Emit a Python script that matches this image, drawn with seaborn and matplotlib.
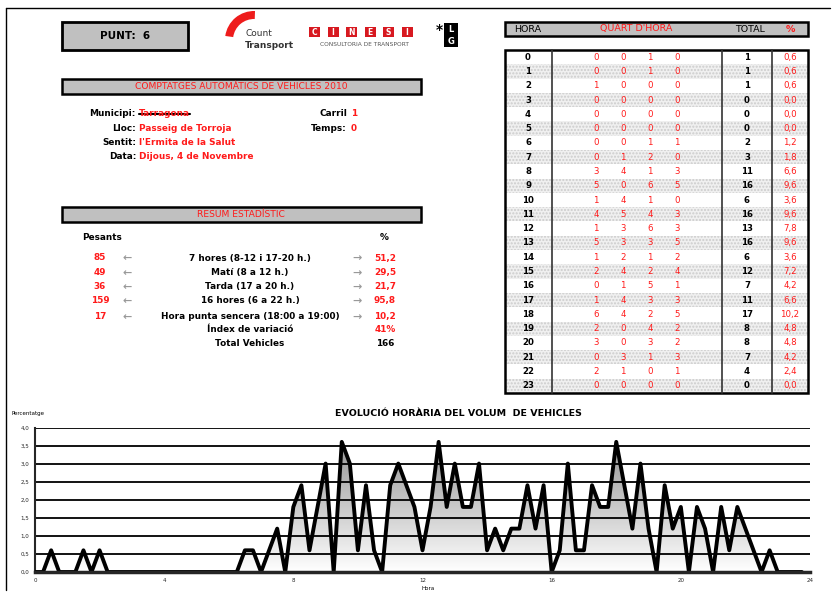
import numpy as np
import pandas as pd
import seaborn as sns
import matplotlib
matplotlib.use("Agg")
from matplotlib import pyplot as plt
from matplotlib.patches import Rectangle, Wedge
from matplotlib.colors import LinearSegmentedColormap

sns.set_style("white")
plt.rcParams["font.family"] = ["DejaVu Sans"]

# vehicles per quarter of an hour (columns of the table)
hours = list(range(24))
q1 = [0, 0, 1, 0, 0, 0, 0, 0, 3, 5, 1, 4, 1, 5, 1, 2, 0, 1, 6, 2, 3, 0, 2, 0]
q2 = [0, 0, 0, 0, 0, 0, 0, 1, 4, 0, 4, 5, 3, 3, 2, 4, 1, 4, 4, 0, 0, 3, 1, 0]
q3 = [1, 1, 0, 0, 0, 0, 1, 2, 1, 6, 1, 4, 6, 3, 1, 2, 5, 3, 2, 4, 3, 1, 0, 0]
q4 = [0, 0, 0, 0, 0, 0, 1, 0, 3, 5, 0, 3, 3, 5, 2, 4, 1, 3, 5, 2, 2, 3, 1, 0]

info_labels = ["Municipi:", "Lloc:", "Sentit:", "Data:"]
info_values = ["Tarragona", "Passeig de Torroja", "l'Ermita de la Salut", "Dijous, 4 de Novembre"]

stat_labels = ["7 hores (8-12 i 17-20 h.)", "Matí (8 a 12 h.)", "Tarda (17 a 20 h.)",
               "16 hores (6 a 22 h.)", "Hora punta sencera (18:00 a 19:00)"]
stat_counts = ["85", "49", "36", "159", "17"]
stat_pcts = ["51,2", "29,5", "21,7", "95,8", "10,2"]
index_variacio = "41%"

totals = [a + b + c + d for a, b, c, d in zip(q1, q2, q3, q4)]
total_vehicles = sum(totals)

RED = "#ff1a1a"
GREY = "#c0c0c0"

fig = plt.figure(figsize=(8.35, 5.92), dpi=100)
pg = fig.add_axes([0, 0, 1, 1])
pg.set_xlim(0, 835)
pg.set_ylim(592, 0)
pg.axis("off")


def box(x0, y0, x1, y1, fc=GREY, lw=1.8):
    pg.add_patch(Rectangle((x0, y0), x1 - x0, y1 - y0, facecolor=fc, edgecolor="black", lw=lw))


def txt(x, y, s, ha="center", color="black", size=6.4, weight="bold", **kw):
    pg.text(x, y, s, ha=ha, va="center", color=color, fontsize=size, fontweight=weight, **kw)


# page frame
pg.plot([6, 6], [8, 590], color="black", lw=1)
pg.plot([6, 830], [8, 8], color="black", lw=1)

# header
box(62, 22, 188, 50, lw=2)
txt(125, 36, "PUNT:  6", size=7.5)

# logos
pg.add_patch(Wedge((254, 40), 29, 188, 272, width=8, color="#ee1c1c", lw=0))
txt(245, 34, "Count", ha="left", color="#333333", size=6.5, weight="normal")
txt(245, 45, "Transport", ha="left", color="#333333", size=6.5)
for i, ch in enumerate("CINESI"):
    cx = 309 + i * 18.5
    pg.add_patch(Rectangle((cx, 27), 11, 10, facecolor="#d71920", lw=0))
    txt(cx + 5.5, 32.3, ch, color="white", size=5.5)
txt(364, 44, "CONSULTORIA DE TRANSPORT", color="#555555", size=4.2, weight="normal")
pg.add_patch(Rectangle((444, 23), 14, 24, facecolor="black", lw=0))
txt(439, 30, "*", color="black", size=10)
txt(451, 30, "L", color="white", size=6)
txt(451, 41, "G", color="white", size=6)

# title bar and location info
box(62, 79, 421, 94)
txt(241, 86.5, "COMPTATGES AUTOMÀTICS DE VEHICLES 2010", color=RED, size=6.6, weight="normal")
for k, (lab, val) in enumerate(zip(info_labels, info_values)):
    y = 114 + k * 14.3
    txt(136, y, lab, ha="right")
    txt(139, y, val, ha="left", color=RED)
pg.plot([139, 190], [114, 114], color="black", lw=1.5)
txt(347, 114, "Carril", ha="right")
txt(351, 114, "1", ha="left", color=RED)
txt(347, 128.5, "Temps:", ha="right")
txt(351, 128.5, "0", ha="left", color=RED)

# statistical summary
box(62, 207, 421, 222)
txt(241, 214.5, "RESUM ESTADÍSTIC", color=RED, size=6.6, weight="normal")
txt(82, 237, "Pesants", ha="left")
txt(384, 237, "%")
for k, (lab, n, p) in enumerate(zip(stat_labels, stat_counts, stat_pcts)):
    y = 258 + k * 14.3 + (1.5 if k == 4 else 0)
    txt(100, y, n, color=RED)
    txt(127, y + 0.5, "\u2190", color="#999999", size=8)
    txt(250, y, lab)
    txt(357, y + 0.5, "\u2192", color="#999999", size=8)
    txt(385, y, p, color=RED)
txt(250, 330, "Índex de variació")
txt(385, 330, index_variacio, color=RED)
txt(250, 344, "Total Vehicles")
txt(385, 344, str(total_vehicles))

# hourly table
box(505, 22, 808, 36)
txt(528, 29, "HORA", weight="normal", size=6.8)
txt(636, 29, "QUART D'HORA", color=RED, weight="normal", size=6.8)
txt(750, 29, "TOTAL", weight="normal", size=6.8)
txt(790, 29, "%", color=RED, size=6.8)
top, bot = 50, 393
rh = (bot - top) / 24
for i, h in enumerate(hours):
    y0 = top + i * rh
    if i % 2 == 1:
        pg.add_patch(Rectangle((505, y0), 303, rh, facecolor="#f0f0f0",
                               edgecolor="#cccccc", hatch=".....", lw=0))
    y = y0 + rh / 2
    txt(528, y, str(h), size=6.2)
    for xq, q in zip([596, 623, 650, 677], [q1[i], q2[i], q3[i], q4[i]]):
        txt(xq, y, str(q), color=RED, size=6.2, weight="normal")
    txt(747, y, str(totals[i]), size=6.2)
    pct = f"{100 * totals[i] / total_vehicles:.1f}".replace(".", ",")
    txt(790, y, pct, color=RED, size=6.2, weight="normal")
pg.add_patch(Rectangle((505, top), 303, bot - top, fill=False, edgecolor="black", lw=1.8))
for xv in [552, 722, 772]:
    pg.plot([xv, xv], [top, bot], color="#333333", lw=1.2)

# chart
quarters = np.array([q1, q2, q3, q4]).T.ravel()
df = pd.DataFrame({"hora": np.arange(96) / 4, "pct": 100 * quarters / total_vehicles})

ax = fig.add_axes([35 / 835, 20 / 592, 775 / 835, 144 / 592])
ax.set_xlim(0, 24)
ax.set_ylim(0, 4)

poly = ax.fill_between(df["hora"], df["pct"], 0, color="none", lw=0)
cmap = LinearSegmentedColormap.from_list("g", ["white", "#8a8a8a"])
grad = np.linspace(0, 1, 256).reshape(-1, 1)
im = ax.imshow(grad, extent=[0, 24, 0, 4], origin="lower", aspect="auto", cmap=cmap, zorder=1)
im.set_clip_path(poly.get_paths()[0], transform=ax.transData)

for yv in np.arange(0.5, 4.01, 0.5):
    ax.axhline(yv, color="black", lw=1.3, zorder=2)
sns.lineplot(data=df, x="hora", y="pct", ax=ax, color="black", linewidth=2.8, zorder=3)

sns.despine(ax=ax)
ax.spines["left"].set_linewidth(1.5)
ax.spines["bottom"].set_linewidth(2.5)
ax.spines["bottom"].set_zorder(4)
ax.set_xticks(range(0, 25, 4))
ax.set_xticks(range(0, 25), minor=True)
ax.set_yticks(np.arange(0, 4.01, 0.5))
ax.set_yticklabels([f"{v:.1f}".replace(".", ",") for v in np.arange(0, 4.01, 0.5)])
ax.tick_params(axis="both", which="major", labelsize=4, length=2, pad=2, color="black")
ax.tick_params(axis="x", which="minor", length=1.5, color="#888888")
ax.set_xlabel("")
ax.set_ylabel("")
txt(458, 413, "EVOLUCIÓ HORÀRIA DEL VOLUM  DE VEHICLES", size=6.8)
txt(12, 414, "Percentatge", ha="left", size=4, weight="normal")
txt(428, 588, "Hora", size=4, weight="normal")

fig.savefig("out.png", dpi=100)
